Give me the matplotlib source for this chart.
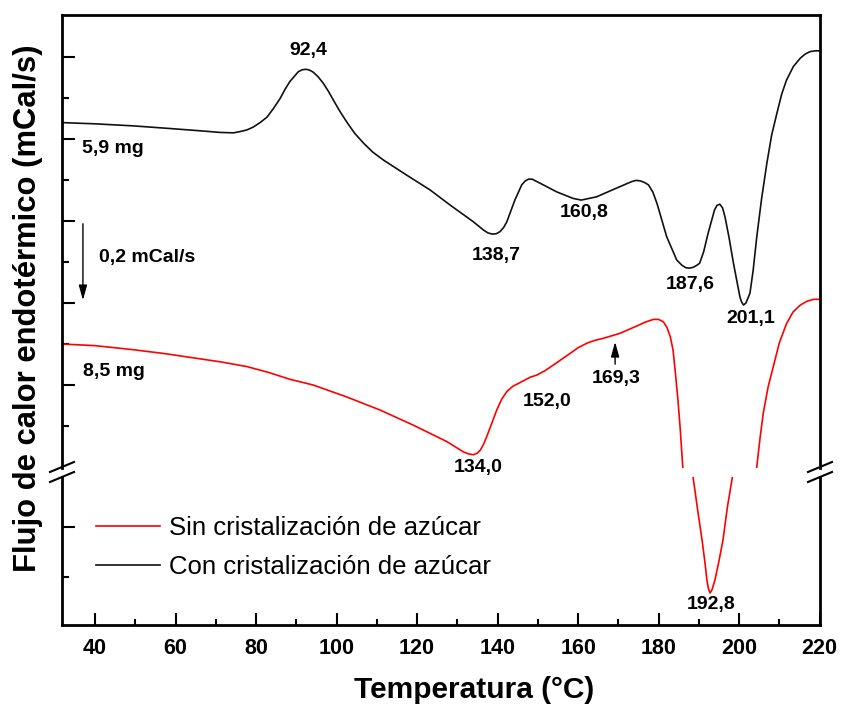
import numpy as np
import matplotlib
matplotlib.use("Agg")
import matplotlib.pyplot as plt
from matplotlib.lines import Line2D

plt.rcParams['font.family'] = ['Liberation Sans', 'DejaVu Sans']

# Con cristalización de azúcar (black) - temperature (°C), heat flow (mCal/s, shifted)
t_con = [31.7, 40.0, 49.5, 58.0, 66.1, 71.1, 74.4, 76.0, 77.7, 79.3, 81.0, 82.7, 84.3,
         86.0, 87.2, 88.4, 90.5, 91.5, 92.4, 93.3, 94.2, 95.4, 96.7, 98.0, 99.2, 100.8,
         102.5, 104.5, 106.7, 109.0, 111.6, 117.4, 123.2, 128.2, 129.9, 134.0,
         136.5, 137.6, 138.7, 139.7, 140.6, 141.5, 142.3, 144.3, 146.0, 146.9, 147.7,
         148.6, 150.6, 154.7, 158.8, 160.8, 164.6, 168.8, 173.3, 174.4, 175.4, 176.5,
         177.5, 178.6, 179.6, 182.0, 184.5, 185.8, 186.8, 187.6, 188.6, 189.5, 190.2,
         191.2, 192.3, 193.9, 194.5, 195.2, 195.9, 196.5, 197.5, 198.6, 200.2, 200.6,
         201.1, 201.7, 202.2, 202.7, 203.5, 204.4, 205.6, 206.9, 208.1, 209.4, 210.6,
         211.8, 213.5, 215.2, 216.4, 217.6, 218.8, 220.0]
q_con = [0.440, 0.437, 0.432, 0.426, 0.420, 0.416, 0.415, 0.418, 0.422, 0.429, 0.440, 0.453, 0.474,
         0.499, 0.521, 0.540, 0.564, 0.569, 0.570, 0.568, 0.563, 0.552, 0.536, 0.516, 0.495, 0.468,
         0.442, 0.414, 0.390, 0.368, 0.349, 0.312, 0.276, 0.239, 0.227, 0.198,
         0.178, 0.171, 0.168, 0.169, 0.174, 0.184, 0.198, 0.251, 0.288, 0.298, 0.302,
         0.302, 0.292, 0.271, 0.255, 0.251, 0.259, 0.277, 0.296, 0.299, 0.298, 0.294,
         0.288, 0.270, 0.243, 0.162, 0.105, 0.092, 0.086, 0.085, 0.087, 0.092, 0.097,
         0.125, 0.170, 0.227, 0.238, 0.241, 0.232, 0.210, 0.160, 0.097, 0.015, 0.003,
         -0.005, 0.000, 0.012, 0.024, 0.080, 0.162, 0.255, 0.341, 0.410, 0.463, 0.510,
         0.544, 0.577, 0.597, 0.607, 0.613, 0.615, 0.615]

# Sin cristalización de azúcar (red)
t_sin = [31.7, 40.0, 48.7, 57.0, 65.3, 71.5, 77.7, 83.0, 88.4, 94.2, 102.5, 110.8, 119.1,
         127.4, 131.5, 132.8, 134.0, 135.0, 135.7, 136.5, 137.3, 138.5, 139.8, 141.0,
         142.3, 143.8, 145.6, 148.1, 149.7, 151.8, 153.9, 158.0, 160.0, 162.2, 164.2,
         166.3, 170.4, 174.6, 176.6, 178.7, 180.0, 181.2, 182.1, 182.9, 183.6, 184.1,
         184.8, 185.4, 186.0,
         188.6, 189.6, 190.8, 191.5, 192.0, 192.4, 192.8, 193.3, 194.0, 195.0, 196.0,
         197.1, 198.3,
         204.4, 205.2, 206.0, 207.2, 208.5, 210.0, 211.8, 213.4, 215.2, 216.8, 218.5, 220.0]
q_sin = [-0.100, -0.104, -0.113, -0.123, -0.135, -0.144, -0.155, -0.169, -0.186, -0.200, -0.229,
         -0.261, -0.298, -0.338, -0.363, -0.368, -0.370, -0.366, -0.359, -0.345, -0.326, -0.295,
         -0.261, -0.235, -0.216, -0.203, -0.194, -0.181, -0.176, -0.165, -0.151, -0.123,
         -0.109, -0.098, -0.091, -0.086, -0.074, -0.056, -0.047, -0.040, -0.040, -0.046,
         -0.060, -0.082, -0.115, -0.163, -0.235, -0.310, -0.399,
         -0.902, -0.960, -1.026, -1.070, -1.106, -1.124, -1.132, -1.125, -1.106, -1.068, -1.026,
         -0.960, -0.902,
         -0.399, -0.330, -0.269, -0.205, -0.155, -0.097, -0.050, -0.022, -0.005, 0.004, 0.009, 0.009]

# peak labels: (text, T, q)
peaks_con = [("92,4", 92.9, 0.617), ("138,7", 139.6, 0.117), ("160,8", 161.5, 0.220),
             ("187,6", 187.8, 0.046), ("201,1", 203.0, -0.037)]
peaks_sin = [("134,0", 135.2, -0.402), ("152,0", 152.3, -0.239), ("169,3", 169.4, -0.183)]

W, H = 841, 707
fig = plt.figure(figsize=(W / 100, H / 100), dpi=100)


def fx(px):
    return px / W


def fy(py):
    return 1 - py / H


left, right = fx(62), fx(820)
ax_top = fig.add_axes([left, fy(468), right - left, fy(15) - fy(468)])
ax_bot = fig.add_axes([left, fy(625), right - left, fy(477) - fy(625)], sharex=ax_top)

red_top, = ax_top.plot(t_sin, q_sin, color='#ff0000', lw=1.2)
ax_bot.plot(t_sin, q_sin, color='#ff0000', lw=1.2)
blk, = ax_top.plot(t_con, q_con, color='#111111', lw=1.2)

ax_top.set_xlim(31.8, 220.1)
ax_top.set_ylim(-0.4024, 0.7024)
ax_bot.set_ylim(-1.196, -0.900)

for ax in (ax_top, ax_bot):
    for s in ax.spines.values():
        s.set_linewidth(2.0)
ax_top.spines['bottom'].set_visible(False)
ax_bot.spines['top'].set_visible(False)

ax_top.set_yticks([-0.2, 0.0, 0.2, 0.4, 0.6])
ax_top.set_yticks([-0.3, -0.1, 0.1, 0.3, 0.5], minor=True)
ax_bot.set_yticks([-1.0])
ax_bot.set_yticks([-1.1], minor=True)
ax_top.tick_params(axis='x', which='both', bottom=False, labelbottom=False)
for ax in (ax_top, ax_bot):
    ax.tick_params(axis='y', which='both', direction='in', labelleft=False, width=1.5)
    ax.tick_params(axis='y', which='major', length=9)
    ax.tick_params(axis='y', which='minor', length=5)

ax_bot.set_xticks(np.arange(40, 221, 20))
ax_bot.set_xticks(np.arange(50, 220, 10), minor=True)
ax_bot.tick_params(axis='x', which='both', direction='in', width=1.5, top=False)
ax_bot.tick_params(axis='x', which='major', length=9, pad=9, labelsize=15.5)
ax_bot.tick_params(axis='x', which='minor', length=4.5)
for lab in ax_bot.get_xticklabels():
    lab.set_fontweight('bold')

# break marks
for xc in (62, 820):
    for y0 in (472, 482):
        fig.add_artist(Line2D([fx(xc - 12), fx(xc + 12)], [fy(y0), fy(y0 - 10)],
                              color='k', lw=1.5, transform=fig.transFigure))

# annotations
lab_kw = dict(fontsize=14, fontweight='bold', ha='center', va='center')
for txt, t, q in peaks_con + peaks_sin:
    ax_top.text(t, q, txt, **lab_kw)
ax_bot.text(193.0, -1.156, "192,8", **lab_kw)

ax_top.text(36.8, 0.378, "5,9 mg", fontsize=14, fontweight='bold', va='center')
ax_top.text(37.0, -0.168, "8,5 mg", fontsize=14, fontweight='bold', va='center')
ax_top.text(41.0, 0.110, "0,2 mCal/s", fontsize=14, fontweight='bold', va='center')

ax_top.annotate('', xy=(37.0, 0.0), xytext=(37.0, 0.2),
                arrowprops=dict(arrowstyle='-|>,head_length=0.9,head_width=0.25',
                                mutation_scale=10, color='k', lw=1.0))
ax_top.annotate('', xy=(169.2, -0.088), xytext=(169.2, -0.156),
                arrowprops=dict(arrowstyle='-|>,head_length=0.9,head_width=0.25',
                                mutation_scale=10, color='k', lw=1.0))

fig.legend([red_top, blk], ["Sin cristalización de azúcar", "Con cristalización de azúcar"],
           loc='upper left', bbox_to_anchor=(fx(96), fy(516)), frameon=False,
           fontsize=18.5, handlelength=2.5, handletextpad=0.35, labelspacing=0.58,
           borderpad=0, borderaxespad=0)

fig.text(fx(28), fy(308), "Flujo de calor endotérmico (mCal/s)", rotation=90,
         fontsize=22.3, fontweight='bold', ha='center', va='center')
fig.text(fx(474), fy(690), "Temperatura (°C)", fontsize=21.5, fontweight='bold',
         ha='center', va='center')

fig.savefig("out.png", dpi=100)
